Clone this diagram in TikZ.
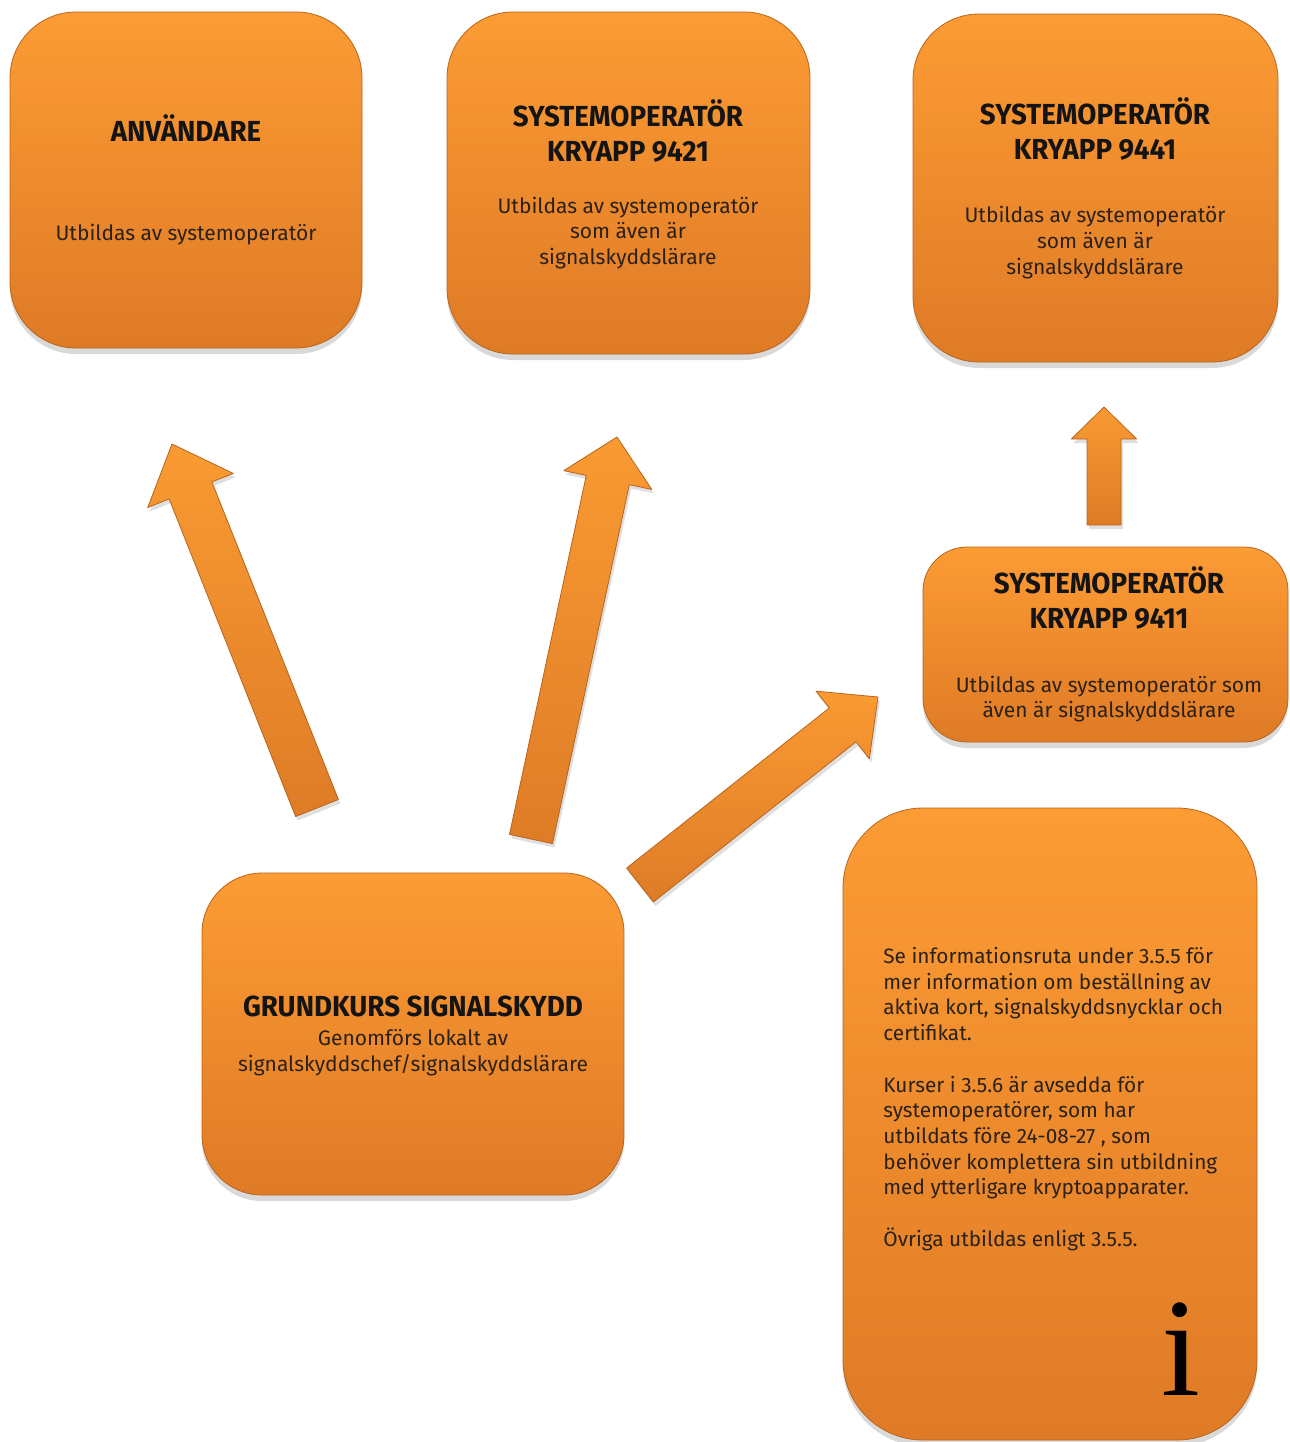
\documentclass[tikz,border=0pt]{standalone}
\usepackage{fontspec}
\setmainfont{Fira Sans}
\newfontfamily\titlefont[FakeStretch=0.955]{Fira Sans}
\newfontfamily\iconfont{Liberation Serif}
\usepackage{tikz}
\usetikzlibrary{calc, shadows}
\usepackage{xcolor}
\definecolor{BoxTop}{HTML}{FC9C34}
\definecolor{BoxBottom}{HTML}{DF7A26}
\definecolor{BoxEdge}{HTML}{B8641C}
\definecolor{ArrowTop}{HTML}{F99A32}
\definecolor{ArrowBottom}{HTML}{DE7C27}
\definecolor{InkBlack}{HTML}{141414}
\definecolor{TextGrey}{HTML}{2A2118}
\tikzset{%
  smooth_box/.style={%
    rectangle,%
    rounded corners=#1,%
    draw=BoxEdge,%
    line width=0.4pt,%
    top color=BoxTop,%
    bottom color=BoxBottom,%
    drop shadow={opacity=0.30, shadow xshift=0pt, shadow yshift=-3pt},%
    inner sep=0pt,%
  },
  smooth_box/.default=33pt,
  box_title/.style={%
    font={\titlefont\bfseries\fontsize{14.5}{17.5}\selectfont},%
    text=InkBlack,%
    align=center,%
    inner sep=0pt,%
  },
  box_text/.style={%
    font={\fontsize{10.5}{12.85}\selectfont},%
    text=TextGrey,%
    align=center,%
    inner sep=0pt,%
  },
  info_text/.style={%
    font={\fontsize{10.4}{12.85}\selectfont},%
    text=TextGrey,%
    align=left,%
    inner sep=0pt,%
  },
  info_icon/.style={%
    font={\iconfont\fontsize{70}{70}\selectfont},%
    text=black,%
    inner sep=0pt,%
  },
  block_arrow/.style={%
    draw=BoxEdge,%
    line width=0.4pt,%
    line join=round,%
    top color=ArrowTop,%
    bottom color=ArrowBottom,%
    drop shadow={opacity=0.25, shadow xshift=1pt, shadow yshift=-2pt},%
  },
}

% tail, tip, half shaft, half head, head length
\newcommand{\blockarrow}[5]{%
  \coordinate (neck) at ($(#2)!#5!(#1)$);
  \path [block_arrow]
    ($(#1)!#3!90:(#2)$)
    --
    ($(neck)!#3!90:(#2)$)
    --
    ($(neck)!#4!90:(#2)$)
    --
    (#2)
    --
    ($(neck)!#4!-90:(#2)$)
    --
    ($(neck)!#3!-90:(#2)$)
    --
    ($(#1)!#3!-90:(#2)$)
    --
    cycle;
}

\begin{document}
\begin{tikzpicture}[x=0.5pt, y=0.5pt]

    \useasboundingbox (0,0) rectangle (1290,-1442);

    % boxes
    \node [smooth_box, minimum width=176pt, minimum height=168pt]
      (Anvandare) at (186,-180) {};
    \node [smooth_box, minimum width=181.5pt, minimum height=171pt]
      (Kry9421) at (628.5,-183) {};
    \node [smooth_box, minimum width=182.5pt, minimum height=174pt]
      (Kry9441) at (1095.5,-188) {};
    \node [smooth_box=22pt, minimum width=182.5pt, minimum height=97.5pt]
      (Kry9411) at (1105.5,-644.5) {};
    \node [smooth_box=30pt, minimum width=211pt, minimum height=161pt]
      (Grundkurs) at (413,-1034) {};
    \node [smooth_box=40pt, minimum width=207pt, minimum height=316pt]
      (Info) at (1050,-1124) {};

    % texts
    \node [box_title] (AnvandareTitle) at (186,-128) {ANVÄNDARE};
    \node [box_text] (AnvandareText) at (186,-235) {%
      Utbildas av systemoperatör%
    };
    \node [box_title] (Kry9421Title) at (628,-130.5) {%
      SYSTEMOPERATÖR\\KRYAPP 9421%
    };
    \node [box_text] (Kry9421Text) at (628,-233) {%
      Utbildas av systemoperatör\\som även är\\signalskyddslärare%
    };
    \node [box_title] (Kry9441Title) at (1095,-128.5) {%
      SYSTEMOPERATÖR\\KRYAPP 9441%
    };
    \node [box_text] (Kry9441Text) at (1095,-242.5) {%
      Utbildas av systemoperatör\\som även är\\signalskyddslärare%
    };
    \node [box_title] (Kry9411Title) at (1109,-598) {%
      SYSTEMOPERATÖR\\KRYAPP 9411%
    };
    \node [box_text] (Kry9411Text) at (1109,-699) {%
      Utbildas av systemoperatör som\\även är signalskyddslärare%
    };
    \node [box_title] (GrundkursTitle) at (413,-1006) {%
      GRUNDKURS SIGNALSKYDD%
    };
    \node [box_text] (GrundkursText) at (413,-1053) {%
      Genomförs lokalt av\\signalskyddschef/signalskyddslärare%
    };
    \node [info_text, anchor=west] (InfoText) at (883,-1099) {%
      Se informationsruta under 3.5.5 för\\
      mer information om beställning av\\
      aktiva kort, signalskyddsnycklar och\\
      certifikat.\\[12.85pt]
      Kurser i 3.5.6 är avsedda för\\
      systemoperatörer, som har\\
      utbildats före 24-08-27 , som\\
      behöver komplettera sin utbildning\\
      med ytterligare kryptoapparater.\\[12.85pt]
      Övriga utbildas enligt 3.5.5.%
    };
    \node [info_icon] (InfoIcon) at (1181,-1349) {i};

    % arrows
    \coordinate (ToAnvandareTail) at (317,-808);
    \coordinate (ToAnvandareTip) at (172,-444);
    \coordinate (To9421Tail) at (531,-839);
    \coordinate (To9421Tip) at (617,-437);
    \coordinate (To9411Tail) at (640,-885);
    \coordinate (To9411Tip) at (878,-697);
    \coordinate (To9441Tail) at (1104,-525);
    \coordinate (To9441Tip) at (1104,-407);

    \blockarrow{ToAnvandareTail}{ToAnvandareTip}{11.5pt}{23pt}{25pt}
    \blockarrow{To9421Tail}{To9421Tip}{11pt}{22.5pt}{22pt}
    \blockarrow{To9411Tail}{To9411Tip}{10.8pt}{21.5pt}{22.5pt}
    \blockarrow{To9441Tail}{To9441Tip}{8.5pt}{16.3pt}{16pt}
  \end{tikzpicture}
\end{document}
